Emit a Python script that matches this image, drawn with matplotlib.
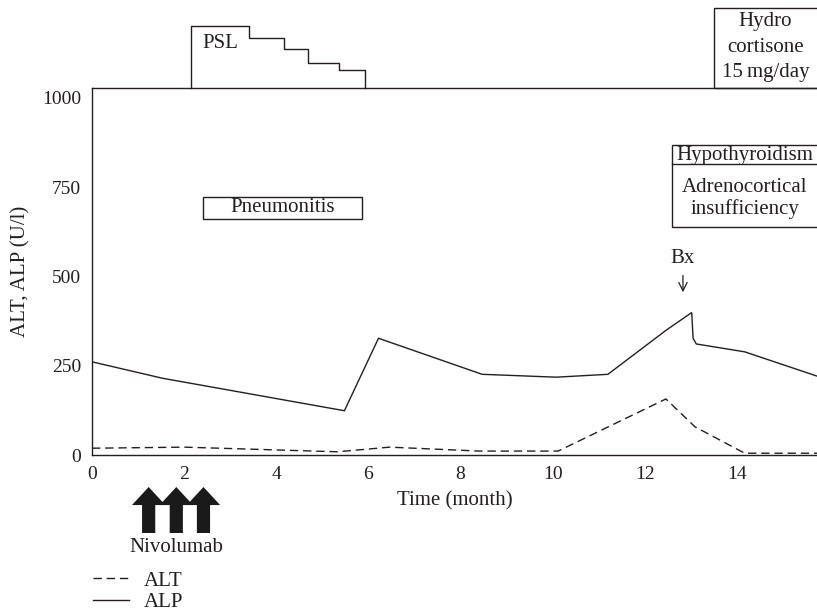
import matplotlib
matplotlib.use("Agg")
import matplotlib.pyplot as plt
from matplotlib.patches import Rectangle

plt.rcParams['font.family'] = ['Liberation Serif', 'DejaVu Serif']

# ---- data ----
alp_t = [0.0, 1.53, 5.48, 6.22, 8.47, 10.08, 11.2, 12.47, 13.02, 13.05, 13.12, 14.17, 15.74]
alp_v = [261, 215, 124, 327, 226, 218, 226, 350, 399, 327, 311, 289, 221]
alt_t = [0.0, 2.0, 5.33, 6.46, 8.41, 10.12, 12.46, 13.09, 14.17, 15.74]
alt_v = [19, 22, 9, 22, 11, 11, 157, 79, 5, 5]
nivolumab_t = [1.23, 1.83, 2.42]
psl_t = [2.15, 3.41, 4.17, 4.70, 5.37, 5.93]
psl_dose = [1.0, 0.81, 0.63, 0.40, 0.29]
bx_t = 12.83
xticks = [0, 2, 4, 6, 8, 10, 12, 14]
yticks = [0, 250, 500, 750, 1000]

ink = '#231f20'
W, H = 817, 614
fig = plt.figure(figsize=(W / 100, H / 100), dpi=100)
ax = fig.add_axes([92 / W, 1 - 455 / H, (W - 92) / W, (455 - 88) / H])

ax.plot(alp_t, alp_v, color=ink, lw=1.0, solid_joinstyle='miter')
ax.plot(alt_t, alt_v, color=ink, lw=1.0, dashes=(6, 3.5))

ax.set_xlim(0, 15.74)
ax.set_ylim(0, 1028)
ax.set_xticks(xticks)
ax.set_yticks(yticks)
ax.tick_params(length=0, labelsize=14, colors=ink, pad=8)
ax.spines['right'].set_visible(False)
for s in ['left', 'bottom', 'top']:
    ax.spines[s].set_color(ink)
    ax.spines[s].set_linewidth(1.0)
ax.set_xlabel('Time (month)', fontsize=15, color=ink, labelpad=6)
ax.set_ylabel('ALT, ALP (U/l)', fontsize=15, color=ink, labelpad=8)

tx = ax.get_xaxis_transform()  # x data, y axes fraction
AH = 455 - 88  # axes height px
def fy(py):
    return (455 - py) / AH

# PSL step box above the axes
hmax = (88 - 25.7) / AH
xs = [psl_t[0]]
ys = [1.0]
for i, d in enumerate(psl_dose):
    xs += [psl_t[i], psl_t[i + 1]]
    ys += [1 + d * hmax, 1 + d * hmax]
xs.append(psl_t[-1])
ys.append(1.0)
ax.plot(xs, ys, color=ink, lw=1.0, transform=tx, clip_on=False)
ax.text(2.4, fy(43), 'PSL', transform=tx, fontsize=15, color=ink, va='center', ha='left')

# Hydrocortisone box
ax.add_patch(Rectangle((13.5, 1.0), 3.0, fy(8.3) - 1.0, transform=tx, fill=False,
                       ec=ink, lw=1.0, clip_on=False))
ax.text(14.62, fy(47), 'Hydro\ncortisone\n15\u2009mg/day', transform=tx, fontsize=15,
        color=ink, ha='center', va='center', linespacing=1.45)

# Hypothyroidism / adrenocortical insufficiency box
ax.add_patch(Rectangle((12.6, 639.5), 3.5, 868 - 639.5, fill=False, ec=ink, lw=1.0, clip_on=False))
ax.plot([12.6, 16.1], [814, 814], color=ink, lw=1.0, clip_on=False)
ax.text(14.17, 840, 'Hypothyroidism', fontsize=15, color=ink, ha='center', va='center')
ax.text(14.17, 719, 'Adrenocortical\ninsufficiency', fontsize=15, color=ink, ha='center',
        va='center', linespacing=1.15)

# Pneumonitis box
ax.add_patch(Rectangle((2.40, 660), 5.86 - 2.40, 723.5 - 660, fill=False, ec=ink, lw=1.0))
ax.text(4.13, 692, 'Pneumonitis', fontsize=15, color=ink, ha='center', va='center')

# Biopsy marker
ax.text(bx_t, 551, 'Bx', fontsize=15, color=ink, ha='center', va='center')
ax.annotate('', xy=(bx_t, 456), xytext=(bx_t, 503),
            arrowprops=dict(arrowstyle='->,head_length=0.6,head_width=0.3', color=ink, lw=0.9,
                            shrinkA=0, shrinkB=0))

# Nivolumab arrows below the axis
for t in nivolumab_t:
    ax.annotate('', xy=(t, fy(487)), xytext=(t, fy(533)), xycoords=tx, textcoords=tx,
                annotation_clip=False,
                arrowprops=dict(arrowstyle='simple,head_length=1.3,head_width=2.4,tail_width=0.95',
                                mutation_scale=10, color='#1a1a1a', lw=0, shrinkA=0, shrinkB=0))
ax.text(sum(nivolumab_t) / 3, fy(547), 'Nivolumab', transform=tx, fontsize=15, color=ink,
        ha='center', va='center')

# Legend
h_alt, = ax.plot([], [], color=ink, lw=1.0, dashes=(6, 3.5), label='ALT')
h_alp, = ax.plot([], [], color=ink, lw=1.0, label='ALP')
leg = fig.legend(handles=[h_alt, h_alp], loc='upper left', bbox_to_anchor=(93 / W, 1 - 571 / H),
                 frameon=False, fontsize=15, handlelength=1.75, handletextpad=0.7,
                 borderpad=0, borderaxespad=0, labelspacing=0.1)
for t in leg.get_texts():
    t.set_color(ink)

fig.savefig('out.png', dpi=100)
